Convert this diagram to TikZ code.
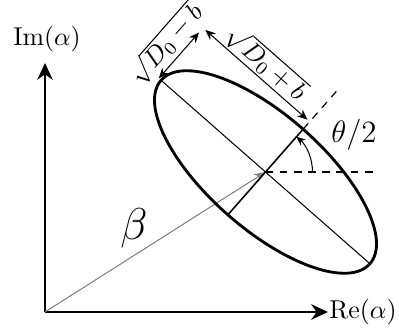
\documentclass[tikz,border=0pt]{standalone}
\usetikzlibrary{arrows.meta}
\begin{document}
\begin{tikzpicture}[x=0.3876pt,y=0.3876pt,
  axisline/.style={line width=0.8pt,-{Stealth[length=6.5pt,width=6pt]}},
  dimline/.style={line width=0.4pt,{Stealth[length=4pt,width=3.4pt]}-{Stealth[length=4pt,width=3.4pt]}},
  dashline/.style={line width=0.45pt,dash pattern=on 3pt off 2.5pt},
  lbl/.style={inner sep=1pt}]
\useasboundingbox (0,0) rectangle (399,331);
\coordinate (O) at (45,19);
\coordinate (ytip) at (45,268);
\coordinate (xtip) at (328,19);
\draw[axisline] (O) -- (ytip);
\draw[axisline] (O) -- (xtip);
\node[lbl] (im) at (47,292) {$\mathrm{Im}(\alpha)$};
\node[lbl] (re) at (363,19) {$\mathrm{Re}(\alpha)$};
\coordinate (C) at (265.5,159);
\draw[gray,line width=0.4pt,-{Stealth[length=4.5pt,width=3.5pt]}] (O) -- (C);
\node[lbl] (beta) at (134,103) {\LARGE$\beta$};
\begin{scope}[shift={(C)},rotate=-41.3]
  \draw[line width=1.1pt] (0,0) ellipse [x radius=139,y radius=57];
  \coordinate (M) at (-139,0);
  \coordinate (Mp) at (139,0);
  \coordinate (N) at (0,57);
  \coordinate (Np) at (0,-57);
  \coordinate (Next) at (0,111);
  \coordinate (A1s) at (-142,0);
  \coordinate (A1e) at (-142,61);
  \coordinate (A2s) at (-139,67);
  \coordinate (A2e) at (-3,67);
  \draw[line width=0.4pt] (M) -- (Mp);
  \draw[line width=0.6pt] (Np) -- (N);
  \draw[dashline] (N) -- (Next);
  \draw[dimline] (A1s) -- node[midway,anchor=south,rotate=48.7,inner sep=1.5pt] (l1) {$\sqrt{D_0-b}$} (A1e);
  \draw[dimline] (A2s) -- node[midway,anchor=south,rotate=-41.3,inner sep=0.5pt] (l2) {$\sqrt{D_0+b}$} (A2e);
\end{scope}
\coordinate (H) at (373,159);
\draw[dashline] (C) -- (H);
\draw[line width=0.4pt,-{Stealth[length=3.5pt,width=3pt]}] ([shift={(47,0)}]C) arc[start angle=0,end angle=48.7,radius=47];
\node[lbl] (theta) at (354,196) {\large$\theta/2$};
\end{tikzpicture}
\end{document}
